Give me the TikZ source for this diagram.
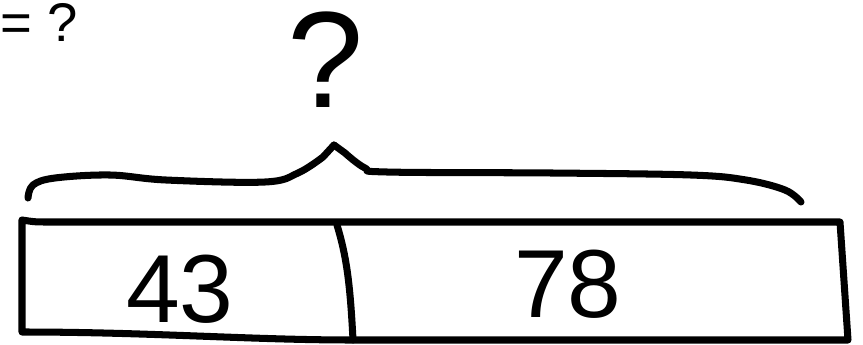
\documentclass[tikz,border=0pt]{standalone}
\usepackage{fontspec}
\setmainfont{Liberation Sans}
\definecolor{ink}{HTML}{000000}

\begin{document}
\begin{tikzpicture}[x=0.02cm,y=-0.02cm,text=ink,hand/.style={draw=ink,line width=4pt,line cap=round,line join=round},figure/.style={font=\fontsize{55}{60}\selectfont,inner sep=0,anchor=base},total/.style={font=\fontsize{78}{82}\selectfont,inner sep=0,anchor=base,text height=.73em,text depth=0pt}]
 \useasboundingbox (0,0) rectangle (863,345);
 \node[anchor=base west,inner sep=0,font=\fontsize{31}{35}\selectfont,text height=.73em,text depth=0pt] (question) at (0,41) {= ?};
 \node[total] (sum) at (326,107) {?};
 % brace over the bar
 \coordinate (apex) at (334,145);
 \draw[hand] plot[smooth,tension=.6] coordinates {(28,198) (33,185) (55,178) (110,175) (166,180) (265,182) (298,173) (323,157)} -- (apex);
 \draw[hand] (apex) -- plot[smooth,tension=.6] coordinates {(345,153) (365,168) (387,172) (552,173) (691,175) (746,180) (785,190) (801,202)};
 % bar
 \coordinate (tl) at (22,220); \coordinate (tr) at (840,222);
 \coordinate (bl) at (22,332); \coordinate (br) at (848,340);
 \draw[hand] (tl) -- (bl) .. controls (150,332) and (250,340) .. (353,340) -- (br) -- (tr) -- (50,222) .. controls (35,222) .. (tl);
 \draw[hand] (337,225) .. controls (346,255) and (350,280) .. (353,340);
 \node[figure] (first) at (180,322) {43};
 \node[figure] (second) at (568,317) {78};
\end{tikzpicture}
\end{document}
